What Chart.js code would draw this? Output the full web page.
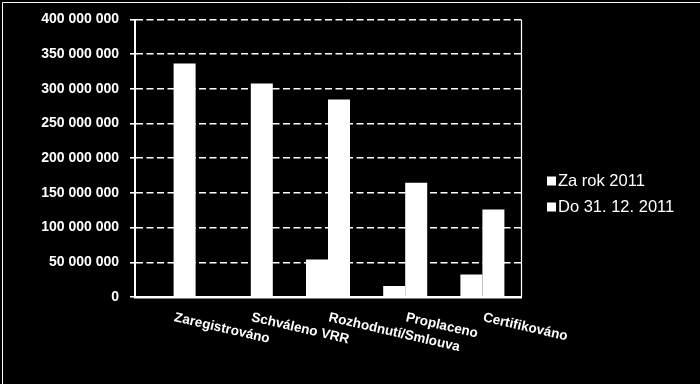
<!DOCTYPE html>
<html>
<head>
<meta charset="utf-8">
<script src="https://cdn.jsdelivr.net/npm/chart.js@4/dist/chart.umd.min.js"></script>
<style>
html,body{margin:0;padding:0;background:#000;}
#wrap{width:700px;height:384px;}
</style>
</head>
<body>
<div id="wrap"><canvas id="c" width="700" height="384"></canvas></div>
<script>
const categories = ["Zaregistrováno", "Schváleno VRR", "Rozhodnutí/Smlouva", "Proplaceno", "Certifikováno"];
const seriesNames = ["Za rok 2011", "Do 31. 12. 2011"];
const zaRok2011 = [0, 0, 54000000, 15700000, 32600000];
const do31122011 = [336500000, 307800000, 284700000, 164700000, 126200000];
const yTicks = [0, 50000000, 100000000, 150000000, 200000000, 250000000, 300000000, 350000000, 400000000];

function fmt(v){ return String(v).replace(/\B(?=(\d{3})+(?!\d))/g, ' '); }

const bgPlugin = {
  id: 'bg',
  beforeDraw(chart){
    const ctx = chart.ctx;
    ctx.save();
    ctx.fillStyle = '#000';
    ctx.fillRect(0,0,chart.width,chart.height);
    ctx.strokeStyle = '#fff';
    ctx.lineWidth = 1;
    ctx.beginPath();
    ctx.moveTo(2.5, 384); ctx.lineTo(2.5, 2.5); ctx.lineTo(700, 2.5);
    ctx.stroke();
    ctx.restore();
  },
  afterDraw(chart){
    const ctx = chart.ctx;
    const a = chart.chartArea;
    const xs = chart.scales.x;
    ctx.save();
    ctx.strokeStyle = '#fff';
    ctx.lineWidth = 1.2;
    ctx.beginPath();
    ctx.moveTo(a.right + 0.5, a.top);
    ctx.lineTo(a.right + 0.5, a.bottom);
    ctx.stroke();
    ctx.fillStyle = '#fff';
    ctx.font = 'bold 13.5px "Liberation Sans", Arial, sans-serif';
    ctx.textAlign = 'left';
    ctx.textBaseline = 'alphabetic';
    categories.forEach((lab, i) => {
      const x = xs.getPixelForTick(i);
      ctx.save();
      ctx.translate(x, 321);
      ctx.rotate(13 * Math.PI / 180);
      ctx.fillText(lab, 0, 0);
      ctx.restore();
    });
    ctx.font = '16.5px "Liberation Sans", Arial, sans-serif';
    ctx.textBaseline = 'middle';
    const ly = [181, 207];
    chart.data.datasets.forEach((ds, i) => {
      ctx.fillStyle = ds.backgroundColor;
      ctx.fillRect(547, ly[i] - 4.5, 9, 9);
      ctx.fillStyle = '#fff';
      ctx.fillText(ds.label, 558, ly[i] + 0.5);
    });
    ctx.restore();
  }
};

new Chart(document.getElementById('c'), {
  type: 'bar',
  data: {
    labels: categories,
    datasets: [
      { label: seriesNames[0], data: zaRok2011, backgroundColor: '#ffffff', borderWidth: 0 },
      { label: seriesNames[1], data: do31122011, backgroundColor: '#ffffff', borderWidth: 0 }
    ]
  },
  options: {
    responsive: false,
    animation: false,
    devicePixelRatio: 1,
    layout: { padding: { left: 0, right: 179, top: 19.5, bottom: 0 } },
    plugins: { legend: { display: false }, tooltip: { enabled: false } },
    datasets: { bar: { categoryPercentage: 0.57, barPercentage: 1.0 } },
    scales: {
      x: {
        grid: { display: false, drawTicks: false },
        border: { display: true, color: '#fff', width: 2.5 },
        ticks: { display: false },
        afterFit(scale){ scale.height = 87; }
      },
      y: {
        min: 0, max: 400000000,
        afterBuildTicks(scale){ scale.ticks = yTicks.map(v => ({ value: v })); },
        grid: { color: '#fff', lineWidth: 1.6, tickLength: 5, tickColor: '#fff', tickBorderDash: [], drawOnChartArea: true },
        border: { display: true, color: '#fff', width: 2, dash: [7, 3.5] },
        ticks: {
          color: '#fff',
          padding: 11,
          font: { family: '"Liberation Sans", Arial, sans-serif', size: 14, weight: 'bold' },
          callback: (v) => fmt(v)
        },
        afterFit(scale){ scale.width = 135; }
      }
    }
  },
  plugins: [bgPlugin]
});
</script>
</body>
</html>
